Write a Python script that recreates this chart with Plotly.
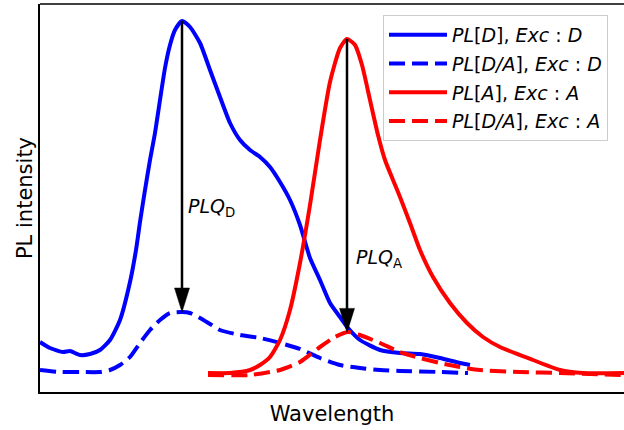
import numpy as np
import plotly.graph_objects as go

# Wavelength (arbitrary units) and PL intensity (arbitrary units)
wl_d = [40, 50, 63, 70, 80, 90, 100, 110, 120, 130, 136, 140, 145, 150, 155, 160, 165, 170, 175, 182,
        190, 200, 210, 220, 230, 240, 250, 260, 270, 280, 290, 300, 310, 320, 330, 340, 348, 360, 380,
        400, 420, 440, 460, 470]
pl_d = [50, 44, 40, 41, 37, 38, 42, 52, 72, 110, 142, 170, 202, 232, 259, 292, 324, 347, 362, 371,
        365, 349, 322, 295, 269, 252, 242, 235, 225, 210, 192, 167, 134, 112, 89, 75, 64, 52, 42,
        39, 38, 34, 29, 27]

wl_da_d = [40, 60, 80, 100, 110, 120, 130, 140, 150, 160, 170, 182, 190, 200, 210, 220, 240, 260, 280,
           300, 320, 340, 360, 380, 400, 440, 468]
pl_da_d = [22, 20, 20, 20, 22, 27, 35, 49, 62, 72, 79, 80, 79, 74, 68, 62, 57, 54, 49,
           43, 34, 27, 24, 22, 21, 20, 19]

wl_a = [208, 230, 250, 260, 270, 280, 290, 300, 310, 320, 330, 340, 347, 355, 362, 370, 378, 385, 393,
        400, 410, 420, 433, 450, 467, 483, 500, 533, 560, 583, 624]
pl_a = [19, 19, 22, 27, 35, 52, 82, 129, 187, 252, 310, 344, 353, 347, 327, 292, 257, 232, 212,
        195, 169, 142, 115, 89, 69, 55, 45, 32, 22, 19, 19]

wl_da_a = [208, 250, 280, 300, 320, 335, 348, 360, 380, 400, 420, 440, 460, 480, 520, 560, 624]
pl_da_a = [17, 17, 22, 30, 45, 55, 60, 57, 49, 40, 34, 29, 25, 22, 20, 19, 17]

names = [
    "<i>PL</i>[<i>D</i>], <i>Exc</i> : <i>D</i>",
    "<i>PL</i>[<i>D/A</i>], <i>Exc</i> : <i>D</i>",
    "<i>PL</i>[<i>A</i>], <i>Exc</i> : <i>A</i>",
    "<i>PL</i>[<i>D/A</i>], <i>Exc</i> : <i>A</i>",
]

FONT = "DejaVu Sans"
LW = 4
DASH = "16px,7px"

fig = go.Figure()
series = [
    (wl_d, pl_d, "#0000ff", "solid"),
    (wl_da_d, pl_da_d, "#0000ff", DASH),
    (wl_a, pl_a, "#ff0000", "solid"),
    (wl_da_a, pl_da_a, "#ff0000", DASH),
]
for i, (x, y, c, d) in enumerate(series):
    fig.add_trace(go.Scatter(
        x=x, y=y, mode="lines", name=names[i], legendgroup=str(i), hoverinfo="skip",
        line=dict(color=c, width=LW, dash=d, shape="spline", smoothing=0.6),
    ))

# Arrows from emission peak (single) down to the quenched spectrum
HEAD_L, HEAD_W = 24, 7.5
arrows = [(wl_d, pl_d, wl_da_d, pl_da_d, "<i>PLQ</i><sub>D</sub>", 185, 4),
          (wl_a, pl_a, wl_da_a, pl_da_a, "<i>PLQ</i><sub>A</sub>", 134, 7)]
for xs, ys, xq, yq, lab, ylab, dx in arrows:
    k = int(np.argmax(ys))
    xp, yp = xs[k], ys[k]
    yt = float(np.interp(xp, xq, yq))
    fig.add_shape(type="line", x0=xp, x1=xp, y0=yp, y1=yt + HEAD_L - 2,
                  line=dict(color="black", width=2.5), layer="above")
    fig.add_shape(type="path",
                  path=f"M{xp - HEAD_W},{yt + HEAD_L} L{xp + HEAD_W},{yt + HEAD_L} L{xp},{yt} Z",
                  fillcolor="black", line=dict(color="black", width=0.5), layer="above")
    fig.add_annotation(x=xp + dx, y=ylab, text=lab, showarrow=False, xanchor="left",
                       yanchor="middle", font=dict(family=FONT, size=19, color="black"))

# top frame line
fig.add_shape(type="line", xref="paper", yref="paper", x0=0, x1=1, y0=1, y1=1,
              line=dict(color="black", width=1.5))

fig.update_layout(
    width=624, height=430,
    margin=dict(l=40, r=0, t=4, b=38, autoexpand=False),
    paper_bgcolor="white", plot_bgcolor="white",
    font=dict(family=FONT, size=18, color="black"),
    showlegend=True,
    legend=dict(x=(383 - 40) / 584, y=(392 - 15) / 388, xanchor="left", yanchor="top",
                bgcolor="rgba(255,255,255,0.8)", bordercolor="#cccccc", borderwidth=1,
                font=dict(family=FONT, size=19, color="black"),
                traceorder="grouped", tracegroupgap=1, itemwidth=58),
    xaxis=dict(range=[40, 624], showticklabels=False, ticks="", showgrid=False, zeroline=False,
               showline=True, linecolor="black", linewidth=1.5, automargin=False,
               title=dict(text="Wavelength", font=dict(family=FONT, size=21), standoff=14)),
    yaxis=dict(range=[0, 388], showticklabels=False, ticks="", showgrid=False, zeroline=False,
               showline=True, linecolor="black", linewidth=1.5, automargin=False,
               title=dict(text="PL intensity", font=dict(family=FONT, size=21), standoff=0)),
)

fig.write_html("out.html", config={"displayModeBar": False},
               post_script="document.body.style.margin='0';")
